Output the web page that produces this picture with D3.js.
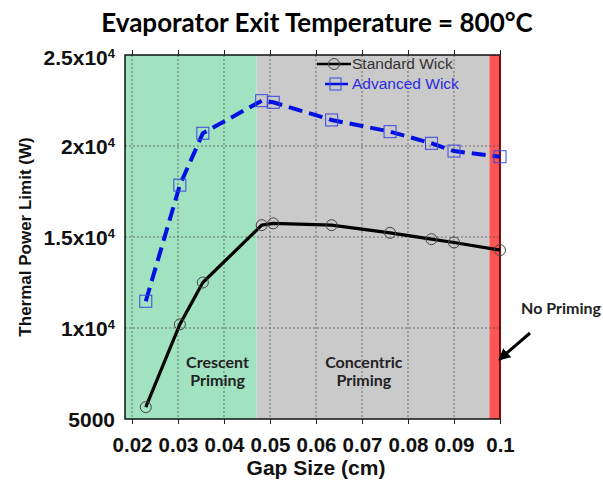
<!DOCTYPE html>
<html>
<head>
<meta charset="utf-8">
<script src="https://cdn.jsdelivr.net/npm/d3@7"></script>
<style>
  body { margin: 0; background: #fff; }
  svg { display: block; }
</style>
</head>
<body>
<div id="chart"></div>
<script>
// values
var gapSize = [0.023, 0.0304, 0.0354, 0.0482, 0.0507, 0.0634, 0.0761, 0.0851, 0.0900, 0.1];
var standardWick = [5650, 10200, 12500, 15650, 15750, 15650, 15230, 14880, 14700, 14280];
var advancedWick = [11470, 17850, 20700, 22490, 22400, 21430, 20790, 20150, 19720, 19410];

var xTicks = [0.02, 0.03, 0.04, 0.05, 0.06, 0.07, 0.08, 0.09, 0.1];
var xTickLabels = ["0.02", "0.03", "0.04", "0.05", "0.06", "0.07", "0.08", "0.09", "0.1"];
var yTicks = [5000, 10000, 15000, 20000, 25000];
var yTickLabels = ["5000", "1x10", "1.5x10", "2x10", "2.5x10"];
var yTickExp = ["", "4", "4", "4", "4"];

// priming regions (gap size bounds)
var regions = [
  {name: "crescent", from: null, to: 0.0471, color: "#a1e2c0"},
  {name: "concentric", from: 0.0471, to: 0.0977, color: "#cbcaca"},
  {name: "none", from: 0.0977, to: 0.1, color: "#fc5556"}
];

var W = 603, H = 483;
var margin = {top: 55, right: 103, bottom: 64, left: 125};
var width = W - margin.left - margin.right,
    height = H - margin.top - margin.bottom;

var axisFont = "'Liberation Sans', Arial, sans-serif";
var labelFont = "Lato, 'Open Sans', sans-serif";

var svg = d3.select("#chart").append("svg")
  .attr("width", W)
  .attr("height", H);

var g = svg.append("g")
  .attr("transform", "translate(" + margin.left + "," + margin.top + ")");

var x = d3.scaleLinear().domain([0.01848, 0.1]).range([0, width]);
var y = d3.scaleLinear().domain([5000, 25000]).range([height, 0]);

// background bands
g.selectAll("rect.band")
  .data(regions)
  .enter().append("rect")
  .attr("class", "band")
  .attr("x", d => d.from === null ? 0 : x(d.from))
  .attr("y", 0)
  .attr("width", d => x(d.to) - (d.from === null ? 0 : x(d.from)))
  .attr("height", height)
  .attr("fill", d => d.color);

// grid
g.selectAll("line.vgrid")
  .data(xTicks.filter(d => d < 0.1))
  .enter().append("line")
  .attr("x1", d => x(d)).attr("x2", d => x(d))
  .attr("y1", 0).attr("y2", height)
  .attr("stroke", "#555").attr("stroke-width", 0.8)
  .attr("stroke-dasharray", "2,2");

g.selectAll("line.hgrid")
  .data(yTicks.filter(d => d > 5000 && d < 25000))
  .enter().append("line")
  .attr("x1", 0).attr("x2", width)
  .attr("y1", d => y(d)).attr("y2", d => y(d))
  .attr("stroke", "#555").attr("stroke-width", 0.8)
  .attr("stroke-dasharray", "2,2");

// axes
var xAxis = d3.axisBottom(x)
  .tickValues(xTicks)
  .tickSize(5)
  .tickFormat((d, i) => xTickLabels[i]);

var gx = g.append("g")
  .attr("transform", "translate(0," + height + ")")
  .call(xAxis);
gx.select(".domain").remove();
gx.selectAll("line").attr("stroke", "#222");
gx.selectAll("text")
  .attr("dy", "1.2em")
  .style("font-family", axisFont)
  .style("font-weight", "bold")
  .style("font-size", "20.5px")
  .attr("fill", "#111");

var gxTop = g.append("g").call(d3.axisTop(x).tickValues(xTicks).tickSize(5).tickFormat(""));
gxTop.select(".domain").remove();
gxTop.selectAll("line").attr("stroke", "#222");

var yAxis = d3.axisLeft(y)
  .tickValues(yTicks)
  .tickSize(0)
  .tickPadding(10)
  .tickFormat((d, i) => yTickLabels[i]);

var gy = g.append("g").call(yAxis);
gy.select(".domain").remove();
gy.selectAll("text")
  .style("font-family", axisFont)
  .style("font-weight", "bold")
  .style("font-size", "21px")
  .attr("fill", "#111")
  .each(function (d, i) {
    if (yTickExp[i]) {
      d3.select(this).append("tspan")
        .attr("dy", "-0.55em")
        .style("font-size", "13px")
        .text(yTickExp[i]);
    }
  })
  .attr("dy", (d, i) => i === yTicks.length - 1 ? "0.45em" : "0.35em");

// plot frame
g.append("rect")
  .attr("x", 0).attr("y", 0)
  .attr("width", width).attr("height", height)
  .attr("fill", "none")
  .attr("stroke", "#111")
  .attr("stroke-width", 1.5);
g.append("line")
  .attr("x1", x(0.1)).attr("x2", x(0.1))
  .attr("y1", 0).attr("y2", height)
  .attr("stroke", "#8a0000").attr("stroke-width", 1.5);

// region labels
function regionLabel(cx, lines) {
  var t = g.append("text")
    .attr("text-anchor", "middle")
    .style("font-family", labelFont)
    .style("font-weight", "bold")
    .style("font-size", "16px")
    .attr("fill", "#222");
  lines.forEach(function (l, i) {
    t.append("tspan").attr("x", cx).attr("y", y(7800) + i * 18).text(l);
  });
}
regionLabel(x(0.0386), ["Crescent", "Priming"]);
regionLabel(x(0.0704), ["Concentric", "Priming"]);

// series
var pts = gapSize.map((gsz, i) => ({x: gsz, s: standardWick[i], a: advancedWick[i]}));

var lineS = d3.line().x(d => x(d.x)).y(d => y(d.s));
var lineA = d3.line().x(d => x(d.x)).y(d => y(d.a));

g.append("path")
  .attr("d", lineS(pts))
  .attr("fill", "none")
  .attr("stroke", "#000")
  .attr("stroke-width", 3.2)
  .attr("stroke-linejoin", "round");

g.selectAll("circle.std")
  .data(pts)
  .enter().append("circle")
  .attr("cx", d => x(d.x)).attr("cy", d => y(d.s))
  .attr("r", 5.5)
  .attr("fill", "none")
  .attr("stroke", "#444")
  .attr("stroke-width", 1);

g.append("path")
  .attr("d", lineA(pts))
  .attr("fill", "none")
  .attr("stroke", "#0010e0")
  .attr("stroke-width", 4)
  .attr("stroke-dasharray", "14,7");

g.selectAll("rect.adv")
  .data(pts)
  .enter().append("rect")
  .attr("x", d => x(d.x) - 6).attr("y", d => y(d.a) - 6)
  .attr("width", 12).attr("height", 12)
  .attr("fill", "none")
  .attr("stroke", "#3a46e0")
  .attr("stroke-width", 1);

// legend
var leg = svg.append("g");
leg.append("line")
  .attr("x1", 317).attr("x2", 351).attr("y1", 64).attr("y2", 64)
  .attr("stroke", "#000").attr("stroke-width", 2.5);
leg.append("circle")
  .attr("cx", 334).attr("cy", 64).attr("r", 5.5)
  .attr("fill", "none").attr("stroke", "#444");
leg.append("text")
  .attr("x", 352).attr("y", 69)
  .style("font-family", axisFont)
  .style("font-size", "15.5px")
  .attr("fill", "#333")
  .text("Standard Wick");

leg.append("line")
  .attr("x1", 325).attr("x2", 348).attr("y1", 84).attr("y2", 84)
  .attr("stroke", "#0010e0").attr("stroke-width", 2.5);
leg.append("rect")
  .attr("x", 330).attr("y", 78).attr("width", 11).attr("height", 12)
  .attr("fill", "none").attr("stroke", "#3a46e0");
leg.append("text")
  .attr("x", 352).attr("y", 89)
  .style("font-family", axisFont)
  .style("font-size", "15.5px")
  .attr("fill", "#2a2ae0")
  .text("Advanced Wick");

// title
svg.append("text")
  .attr("x", 317).attr("y", 32)
  .attr("text-anchor", "middle")
  .style("font-family", labelFont)
  .style("font-weight", "bold")
  .style("font-size", "26px")
  .attr("fill", "#000")
  .text("Evaporator Exit Temperature = 800°C");

// axis titles
svg.append("text")
  .attr("x", 316).attr("y", 475)
  .attr("text-anchor", "middle")
  .style("font-family", axisFont)
  .style("font-weight", "bold")
  .style("font-size", "21px")
  .attr("fill", "#111")
  .text("Gap Size (cm)");

svg.append("text")
  .attr("transform", "translate(31,237) rotate(-90)")
  .attr("text-anchor", "middle")
  .style("font-family", axisFont)
  .style("font-weight", "bold")
  .style("font-size", "17px")
  .attr("fill", "#111")
  .text("Thermal Power Limit (W)");

// "No Priming" annotation
svg.append("text")
  .attr("x", 561).attr("y", 314)
  .attr("text-anchor", "middle")
  .style("font-family", labelFont)
  .style("font-weight", "bold")
  .style("font-size", "16px")
  .attr("fill", "#222")
  .text("No Priming");

svg.append("defs").append("marker")
  .attr("id", "arrowhead")
  .attr("viewBox", "0 0 10 10")
  .attr("refX", 8).attr("refY", 5)
  .attr("markerWidth", 4).attr("markerHeight", 4)
  .attr("orient", "auto")
  .append("path")
  .attr("d", "M0,0 L10,5 L0,10 Z")
  .attr("fill", "#000");

svg.append("line")
  .attr("x1", 530).attr("y1", 333)
  .attr("x2", 500).attr("y2", 359)
  .attr("stroke", "#000").attr("stroke-width", 3)
  .attr("marker-end", "url(#arrowhead)");
</script>
</body>
</html>
